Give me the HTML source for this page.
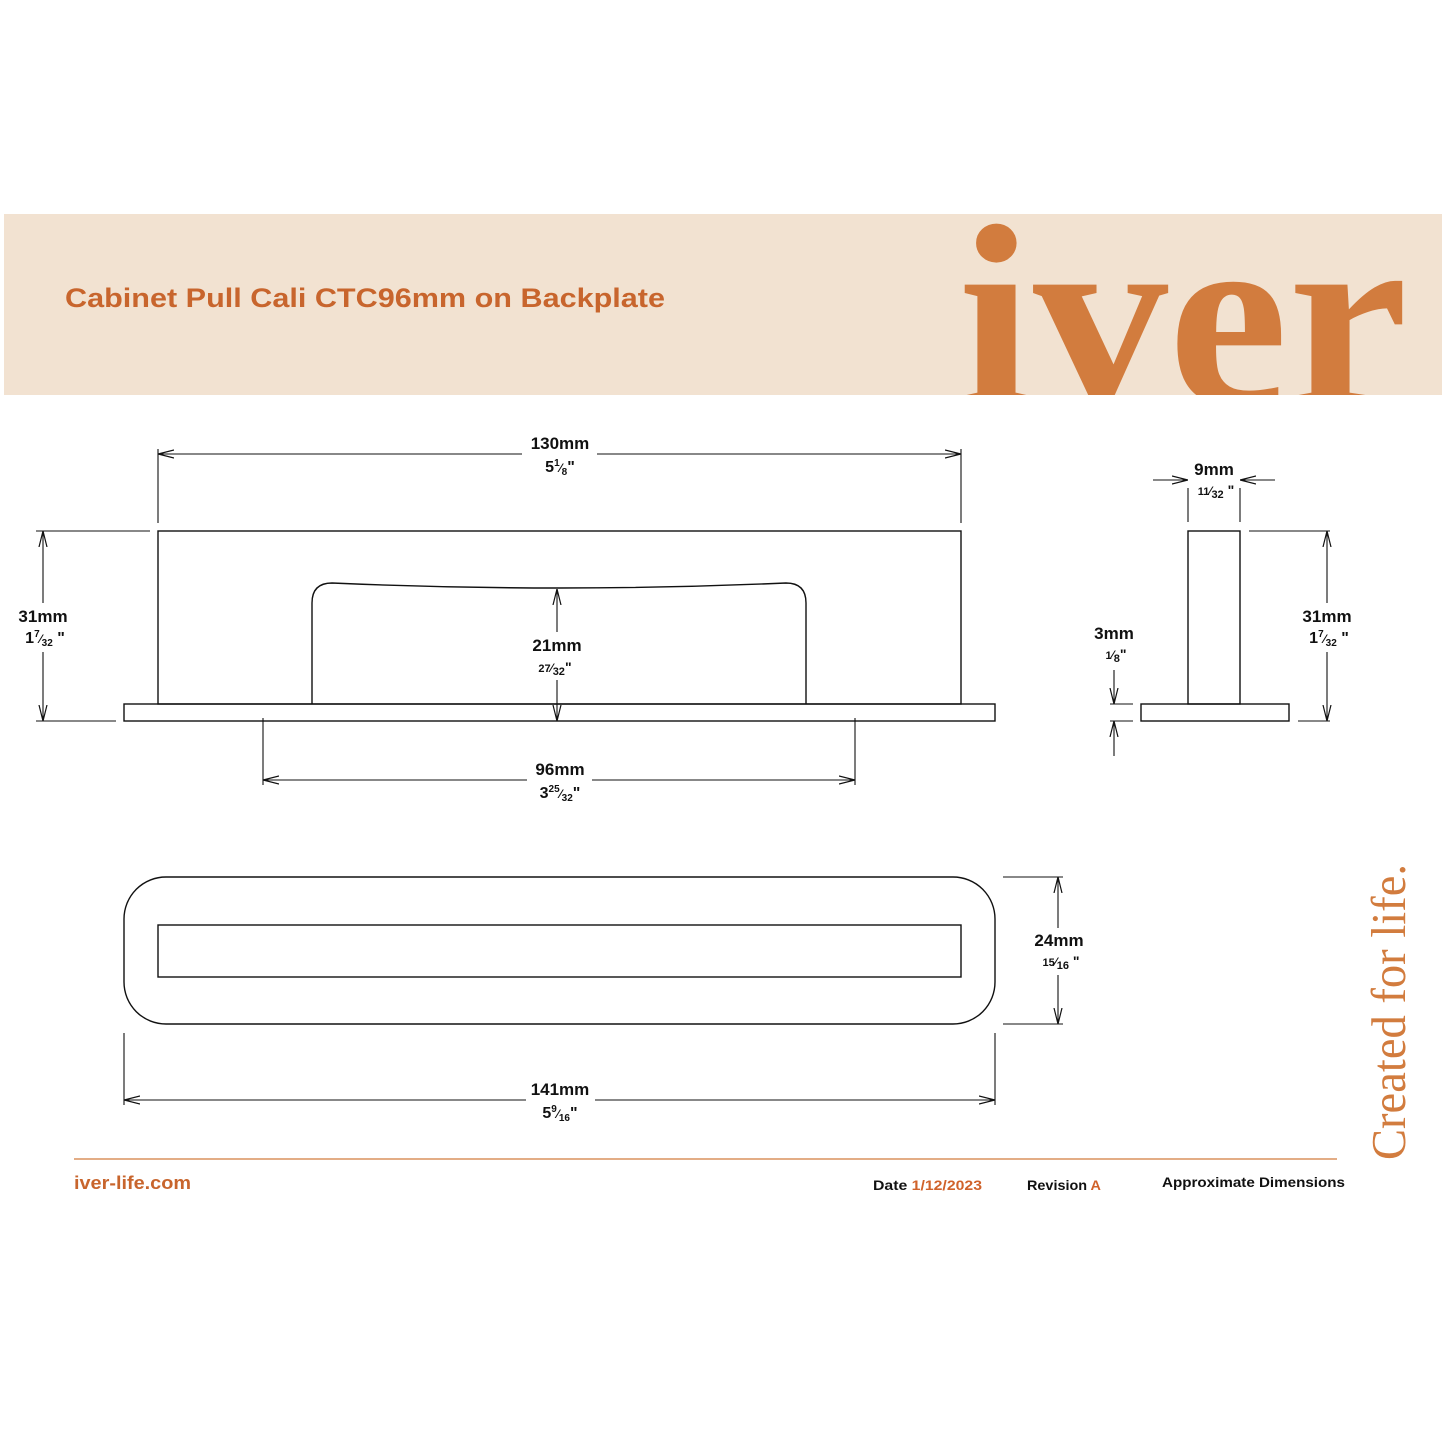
<!DOCTYPE html>
<html><head><meta charset="utf-8"><style>
html,body{margin:0;padding:0;background:#fff}
svg{display:block}
.d{font-family:"Liberation Sans",sans-serif;font-weight:bold;fill:#111;text-anchor:middle}
</style></head><body>
<svg width="1445" height="1445" viewBox="0 0 1445 1445" xmlns="http://www.w3.org/2000/svg">
<defs>
<marker id="a" viewBox="0 0 16 10" refX="16" refY="5" markerWidth="16" markerHeight="10" markerUnits="userSpaceOnUse" orient="auto-start-reverse">
<path d="M0,1 L16,5 L0,9" fill="none" stroke="#111" stroke-width="1.2"/>
</marker>
</defs>
<rect x="4" y="214" width="1438" height="181" fill="#f2e2d1"/>
<text x="65" y="307" font-family="Liberation Sans,sans-serif" font-weight="bold" font-size="27" fill="#c8652d" textLength="600" lengthAdjust="spacingAndGlyphs">Cabinet Pull Cali CTC96mm on Backplate</text>
<svg x="0" y="214" width="1445" height="181" overflow="hidden">
<text x="958" y="190" font-family="Liberation Serif,serif" font-weight="bold" font-size="260" fill="#d27c3e" textLength="450" lengthAdjust="spacingAndGlyphs">iver</text>
</svg>
<text transform="translate(1405,1160) rotate(-90)" font-family="Liberation Serif,serif" font-size="49" fill="#d27c3e" textLength="296" lengthAdjust="spacingAndGlyphs">Created for life.</text>

<g fill="none" stroke="#111" stroke-width="1.4">
<rect x="158" y="531" width="803" height="173"/>
<rect x="124" y="704" width="871" height="17"/>
<path d="M312,704 V603 Q312,583 332,583 Q560,593 786,583 Q806,583 806,603 V704"/>
<rect x="1188" y="531" width="52" height="173"/>
<rect x="1141" y="704" width="148" height="17"/>
<rect x="124" y="877" width="871" height="147" rx="42"/>
<rect x="158" y="925" width="803" height="52"/>
</g>
<g stroke="#111" stroke-width="1.1" fill="none">
<line x1="158" y1="449" x2="158" y2="523"/><line x1="961" y1="449" x2="961" y2="523"/>
<line x1="158" y1="454" x2="522" y2="454" marker-start="url(#a)"/><line x1="597" y1="454" x2="961" y2="454" marker-end="url(#a)"/>
<line x1="36" y1="531" x2="150" y2="531"/><line x1="36" y1="721" x2="116" y2="721"/>
<line x1="43" y1="531" x2="43" y2="603" marker-start="url(#a)"/><line x1="43" y1="652" x2="43" y2="721" marker-end="url(#a)"/>
<line x1="557" y1="589" x2="557" y2="632" marker-start="url(#a)"/><line x1="557" y1="680" x2="557" y2="721" marker-end="url(#a)"/>
<line x1="263" y1="718" x2="263" y2="785"/><line x1="855" y1="718" x2="855" y2="785"/>
<line x1="263" y1="780" x2="527" y2="780" marker-start="url(#a)"/><line x1="592" y1="780" x2="855" y2="780" marker-end="url(#a)"/>
<line x1="1188" y1="488" x2="1188" y2="522"/><line x1="1240" y1="488" x2="1240" y2="522"/>
<line x1="1153" y1="480" x2="1188" y2="480" marker-end="url(#a)"/><line x1="1275" y1="480" x2="1240" y2="480" marker-end="url(#a)"/>
<line x1="1249" y1="531" x2="1330" y2="531"/><line x1="1298" y1="721" x2="1330" y2="721"/>
<line x1="1327" y1="531" x2="1327" y2="603" marker-start="url(#a)"/><line x1="1327" y1="652" x2="1327" y2="721" marker-end="url(#a)"/>
<line x1="1110" y1="704" x2="1133" y2="704"/><line x1="1110" y1="721" x2="1133" y2="721"/>
<line x1="1114" y1="670" x2="1114" y2="704" marker-end="url(#a)"/><line x1="1114" y1="756" x2="1114" y2="721" marker-end="url(#a)"/>
<line x1="1003" y1="877" x2="1063" y2="877"/><line x1="1003" y1="1024" x2="1063" y2="1024"/>
<line x1="1058" y1="877" x2="1058" y2="928" marker-start="url(#a)"/><line x1="1058" y1="975" x2="1058" y2="1024" marker-end="url(#a)"/>
<line x1="124" y1="1033" x2="124" y2="1105"/><line x1="995" y1="1033" x2="995" y2="1105"/>
<line x1="124" y1="1100" x2="526" y2="1100" marker-start="url(#a)"/><line x1="595" y1="1100" x2="995" y2="1100" marker-end="url(#a)"/>
</g>
<g class="d">
<text x="560" y="449" font-size="17">130mm</text>
<text x="560" y="472" font-size="16">5<tspan font-size="10" dy="-6">1</tspan><tspan font-size="12" dy="6">⁄</tspan><tspan font-size="10" dy="3">8</tspan><tspan dy="-3">"</tspan></text>
<text x="43" y="622" font-size="17">31mm</text>
<text x="45" y="643" font-size="16">1<tspan font-size="10" dy="-6">7</tspan><tspan font-size="12" dy="6">⁄</tspan><tspan font-size="10" dy="3">32</tspan><tspan dy="-3"> "</tspan></text>
<text x="557" y="651" font-size="17">21mm</text>
<text x="555" y="672" font-size="11">27<tspan font-size="12">⁄</tspan><tspan dy="3">32</tspan><tspan font-size="14" dy="-3">"</tspan></text>
<text x="560" y="775" font-size="17">96mm</text>
<text x="560" y="798" font-size="16">3<tspan font-size="10" dy="-6">25</tspan><tspan font-size="12" dy="6">⁄</tspan><tspan font-size="10" dy="3">32</tspan><tspan dy="-3">"</tspan></text>
<text x="1214" y="475" font-size="17">9mm</text>
<text x="1216" y="495" font-size="11">11<tspan font-size="12">⁄</tspan><tspan dy="3">32</tspan><tspan font-size="14" dy="-3"> "</tspan></text>
<text x="1327" y="622" font-size="17">31mm</text>
<text x="1329" y="643" font-size="16">1<tspan font-size="10" dy="-6">7</tspan><tspan font-size="12" dy="6">⁄</tspan><tspan font-size="10" dy="3">32</tspan><tspan dy="-3"> "</tspan></text>
<text x="1114" y="639" font-size="17">3mm</text>
<text x="1116" y="659" font-size="11">1<tspan font-size="12">⁄</tspan><tspan dy="3">8</tspan><tspan font-size="14" dy="-3">"</tspan></text>
<text x="1059" y="946" font-size="17">24mm</text>
<text x="1061" y="966" font-size="11">15<tspan font-size="12">⁄</tspan><tspan dy="3">16</tspan><tspan font-size="14" dy="-3"> "</tspan></text>
<text x="560" y="1095" font-size="17">141mm</text>
<text x="560" y="1118" font-size="16">5<tspan font-size="10" dy="-6">9</tspan><tspan font-size="12" dy="6">⁄</tspan><tspan font-size="10" dy="3">16</tspan><tspan dy="-3">"</tspan></text>
</g>
<line x1="74" y1="1159" x2="1337" y2="1159" stroke="#d27c3e" stroke-width="1.2"/>
<g font-family="Liberation Sans,sans-serif" font-weight="bold">
<text x="74" y="1189" font-size="18" fill="#c8652d" textLength="117" lengthAdjust="spacingAndGlyphs">iver-life.com</text>
<text x="873" y="1190" font-size="14" fill="#111" textLength="109" lengthAdjust="spacingAndGlyphs">Date <tspan fill="#d0622a">1/12/2023</tspan></text>
<text x="1027" y="1190" font-size="14" fill="#111" textLength="74" lengthAdjust="spacingAndGlyphs">Revision <tspan fill="#d0622a">A</tspan></text>
<text x="1162" y="1187" font-size="14" fill="#111" textLength="183" lengthAdjust="spacingAndGlyphs">Approximate Dimensions</text>
</g>
</svg>
</body></html>
